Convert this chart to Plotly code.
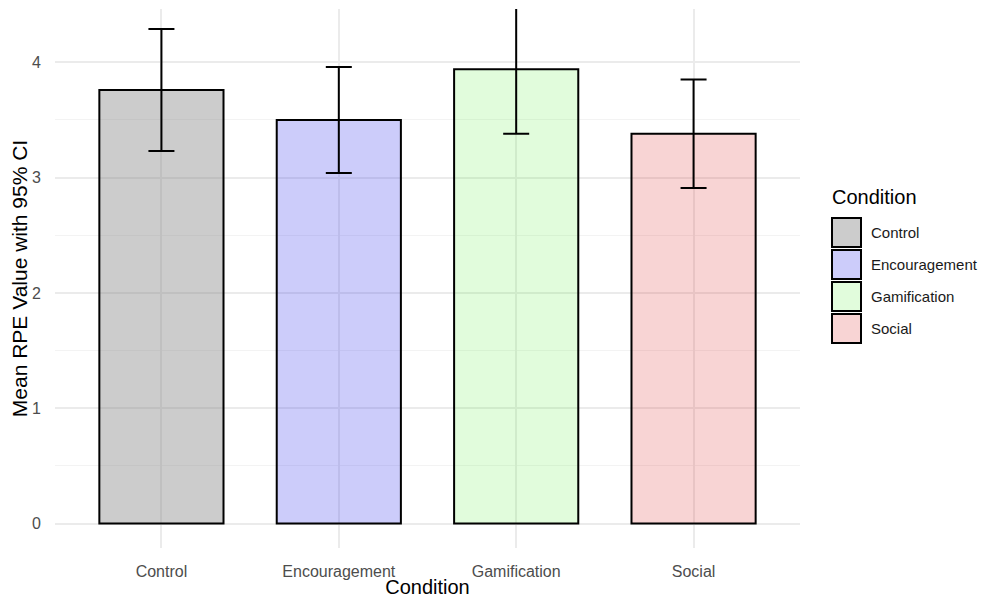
import plotly.graph_objects as go

# ---- data ----
conditions = ["Control", "Encouragement", "Gamification", "Social"]
mean_rpe = [3.76, 3.50, 3.94, 3.38]
ci_upper = [4.29, 3.96, 4.50, 3.85]
ci_lower = [3.23, 3.04, 3.38, 2.91]
fill_colors = ["rgba(128,128,128,0.4)", "rgba(40,40,235,0.24)",
               "rgba(80,235,50,0.17)", "rgba(225,60,60,0.22)"]
y_ticks = [0, 1, 2, 3, 4]

# page body has an 8px margin, so the figure is shrunk and shifted by it
OFF = 8
W, H = 990 - OFF, 598 - OFF
L, T = 55 - OFF, 9 - OFF
R = W - (800 - OFF)
B = H - (548 - OFF)
pw, ph = W - L - R, H - T - B

fig = go.Figure()
for c, m, hi, lo, col in zip(conditions, mean_rpe, ci_upper, ci_lower, fill_colors):
    fig.add_trace(go.Bar(
        x=[c], y=[m], name=c, width=0.7,
        marker=dict(color=col, line=dict(color="black", width=2)),
        error_y=dict(type="data", symmetric=False,
                     array=[hi - m], arrayminus=[m - lo],
                     color="black", thickness=2, width=13),
        showlegend=False,
    ))

# custom ggplot-style legend built from the category list (page-pixel helpers)
def px_x(p):
    return (p - OFF - L) / pw

def px_y(p):
    return (H - B - (p - OFF)) / ph

fig.add_annotation(xref="paper", yref="paper", x=px_x(830), y=px_y(197),
                   text="Condition", showarrow=False, xanchor="left", yanchor="middle",
                   font=dict(size=20, color="black"))
for i, (c, col) in enumerate(zip(conditions, fill_colors)):
    top = 218 + 32 * i
    fig.add_shape(type="rect", xref="paper", yref="paper",
                  x0=px_x(832), x1=px_x(861), y0=px_y(top), y1=px_y(top + 29),
                  fillcolor=col, line=dict(color="black", width=2))
    fig.add_annotation(xref="paper", yref="paper", x=px_x(869), y=px_y(top + 14.5),
                       text=c, showarrow=False, xanchor="left", yanchor="middle",
                       font=dict(size=15, color="#1a1a1a"))

fig.update_layout(
    width=W, height=H,
    margin=dict(l=L, r=R, t=T, b=B),
    paper_bgcolor="white", plot_bgcolor="white",
    font=dict(family="Liberation Sans, Arial, sans-serif", color="#4D4D4D", size=16),
    bargap=0.3,
)
fig.update_xaxes(
    automargin=False,
    range=[-0.6, 3.6], showgrid=True, gridcolor="#EBEBEB", gridwidth=1.5,
    zeroline=False, showline=False,
    ticks="outside", ticklen=9, tickcolor="rgba(0,0,0,0)",
    tickfont=dict(size=16, color="#4D4D4D"),
    title=dict(text="Condition", font=dict(size=20, color="black"), standoff=2),
)
fig.update_yaxes(
    automargin=False,
    range=[-0.2125, 4.4625], tickvals=y_ticks,
    showgrid=True, gridcolor="#EBEBEB", gridwidth=1.5,
    minor=dict(dtick=0.5, showgrid=True, gridcolor="#F3F3F3", gridwidth=1),
    zeroline=False, showline=False,
    ticks="outside", ticklen=10, tickcolor="rgba(0,0,0,0)",
    tickfont=dict(size=16, color="#4D4D4D"),
    title=dict(text="Mean RPE Value with 95% CI", font=dict(size=21, color="black"), standoff=4),
)

fig.write_html("out.html")
